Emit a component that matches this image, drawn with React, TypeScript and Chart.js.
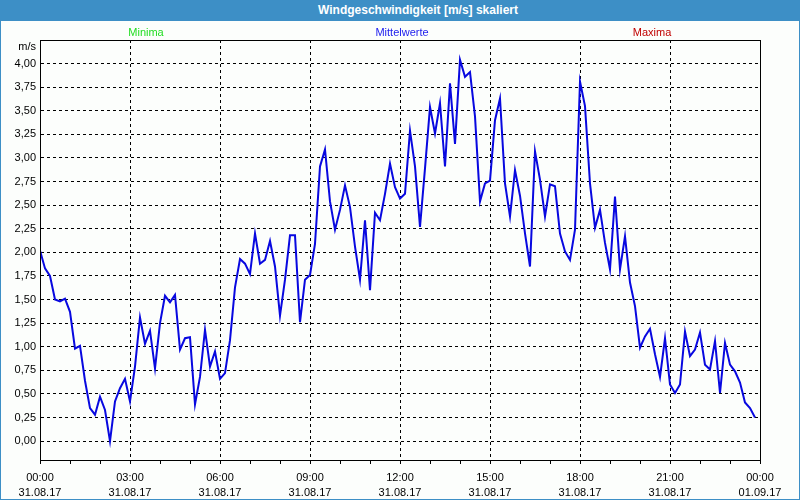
import React, { useEffect, useRef } from 'react';
import { Chart, registerables } from 'chart.js';

Chart.register(...registerables);

// Mittelwerte (m/s), 10-minute samples
const windNight = [
  2.02, 1.83, 1.75, 1.5, 1.48, 1.51, 1.37, 0.98, 1.01, 0.64, 0.35, 0.28,
  0.47, 0.33, 0.0, 0.42, 0.56, 0.66, 0.42, 0.79, 1.31, 1.03, 1.17, 0.77,
  1.25, 1.54, 1.47, 1.55, 0.97, 1.09, 1.1, 0.39, 0.68, 1.18, 0.79, 0.95,
  0.66, 0.72, 1.07, 1.63, 1.93, 1.88, 1.77, 2.2, 1.88, 1.92, 2.12, 1.85,
];
const windDay = [
  1.33, 1.71, 2.18, 2.18, 1.26, 1.71, 1.76, 2.09, 2.91, 3.09, 2.54, 2.24,
  2.45, 2.71, 2.48, 2.06, 1.71, 2.34, 1.6, 2.42, 2.34, 2.62, 2.94, 2.69,
  2.57, 2.62, 3.29, 2.91, 2.27, 2.89, 3.54, 3.26, 3.58, 2.91, 3.79, 3.15,
  4.04, 3.86, 3.91, 3.44, 2.54, 2.73, 2.76, 3.4, 3.63, 2.73, 2.38, 2.87,
];
const windEvening = [
  2.6, 2.2, 1.85, 3.07, 2.77, 2.38, 2.72, 2.7, 2.2, 2.01, 1.92, 2.24,
  3.81, 3.55, 2.73, 2.26, 2.45, 2.1, 1.82, 2.59, 1.82, 2.17, 1.68, 1.43,
  0.99, 1.11, 1.19, 0.92, 0.68, 1.09, 0.6, 0.51, 0.6, 1.16, 0.9, 0.97,
  1.15, 0.81, 0.76, 1.06, 0.51, 1.04, 0.81, 0.74, 0.62, 0.41, 0.35, 0.25,
];
const windMittelwerte = [...windNight, ...windDay, ...windEvening];
const sampleMinutes = 10;

const xTickTimes = ['00:00', '03:00', '06:00', '09:00', '12:00', '15:00', '18:00', '21:00', '00:00'];
const xTickDates = ['31.08.17', '31.08.17', '31.08.17', '31.08.17', '31.08.17', '31.08.17', '31.08.17', '31.08.17', '01.09.17'];
const yTickValues = [0, 0.25, 0.5, 0.75, 1, 1.25, 1.5, 1.75, 2, 2.25, 2.5, 2.75, 3, 3.25, 3.5, 3.75, 4];
const legendLabels = ['Minima', 'Mittelwerte', 'Maxima'];
const legendColors = ['#22dd22', '#2020ee', '#c00000'];
const legendCenters = [146, 402, 652];

const titleText = 'Windgeschwindigkeit [m/s] skaliert';
const unitText = 'm/s';

const FONT = '"Liberation Sans", Arial, sans-serif';

const framePlugin = {
  id: 'plotFrame',
  afterDraw(chart: any) {
    const { ctx, chartArea: a } = chart;
    ctx.save();
    ctx.strokeStyle = '#000';
    ctx.lineWidth = 1;
    ctx.strokeRect(Math.round(a.left) + 0.5, Math.round(a.top) + 0.5, Math.round(a.right - a.left), Math.round(a.bottom - a.top));
    ctx.restore();
  },
};

export default function App() {
  const canvasRef = useRef<HTMLCanvasElement | null>(null);

  useEffect(() => {
    document.body.style.margin = '0';
    const canvas = canvasRef.current;
    if (!canvas) return;
    const points = windMittelwerte.map((v, i) => ({ x: i * sampleMinutes, y: v }));
    const chart = new Chart(canvas, {
      type: 'line',
      data: {
        datasets: [
          {
            label: 'Mittelwerte',
            data: points,
            borderColor: '#0808e0',
            borderWidth: 2,
            pointRadius: 0,
            tension: 0,
            fill: false,
          },
        ],
      },
      options: {
        responsive: false,
        animation: false,
        layout: { padding: { top: 40, right: 40, left: 0, bottom: 0 } },
        plugins: { legend: { display: false }, tooltip: { enabled: false }, title: { display: false } },
        scales: {
          x: {
            type: 'linear',
            min: 0,
            max: 1440,
            afterBuildTicks: (scale: any) => {
              const t = [];
              for (let m = 0; m <= 1440; m += 60) t.push({ value: m });
              scale.ticks = t;
            },
            afterFit: (scale: any) => {
              scale.height = 40;
            },
            grid: {
              color: (ctx: any) => (ctx.tick && ctx.tick.value % 180 === 0 ? '#000' : 'rgba(0,0,0,0)'),
              lineWidth: 1,
              drawTicks: true,
              tickLength: 4,
              tickColor: '#000',
              tickWidth: 1,
            },
            border: { display: true, color: '#000', width: 1, dash: [3, 3] },
            ticks: {
              autoSkip: false,
              maxRotation: 0,
              padding: 6,
              color: '#000',
              font: { family: FONT, size: 11, lineHeight: '15px' },
              callback: (value: any) => {
                const v = Number(value);
                if (v % 180 !== 0) return '';
                const idx = v / 180;
                return [xTickTimes[idx], xTickDates[idx]];
              },
            },
          },
          y: {
            type: 'linear',
            min: -0.2,
            max: 4.25,
            afterBuildTicks: (scale: any) => {
              scale.ticks = yTickValues.map((v) => ({ value: v }));
            },
            afterFit: (scale: any) => {
              scale.width = 40;
            },
            grid: {
              color: '#000',
              lineWidth: 1,
              drawTicks: false,
            },
            border: { display: true, color: '#000', width: 1, dash: [3, 3] },
            ticks: {
              padding: 4,
              color: '#000',
              font: { family: FONT, size: 11 },
              callback: (value: any) => Number(value).toFixed(2).replace('.', ','),
            },
          },
        },
      },
      plugins: [framePlugin],
    } as any);
    return () => chart.destroy();
  }, []);

  return (
    <div style={{ position: 'relative', width: 800, height: 500, background: '#fcfefc', overflow: 'hidden', fontFamily: FONT }}>
      <canvas ref={canvasRef} width={800} height={500} style={{ position: 'absolute', left: 0, top: 0, display: 'block' }} />
      <div style={{ position: 'absolute', left: 0, top: 0, width: 800, height: 21, background: '#3d8fc6' }}>
        <span
          style={{
            position: 'absolute',
            left: 418,
            top: 0,
            transform: 'translateX(-50%)',
            whiteSpace: 'nowrap',
            color: '#fff',
            fontWeight: 'bold',
            fontSize: 12,
            lineHeight: '21px',
          }}
        >
          {titleText}
        </span>
      </div>
      {legendLabels.map((lbl, i) => (
        <span
          key={lbl}
          style={{
            position: 'absolute',
            left: legendCenters[i],
            top: 25,
            transform: 'translateX(-50%)',
            whiteSpace: 'nowrap',
            color: legendColors[i],
            fontSize: 11,
            lineHeight: '14px',
          }}
        >
          {lbl}
        </span>
      ))}
      <div style={{ position: 'absolute', left: 0, top: 40, width: 36, textAlign: 'right', fontSize: 11, lineHeight: '13px', color: '#000' }}>
        {unitText}
      </div>
      <div
        style={{
          position: 'absolute',
          left: 0,
          top: 0,
          width: 800,
          height: 500,
          boxSizing: 'border-box',
          borderLeft: '1px solid #3d8fc6',
          borderRight: '1px solid #3d8fc6',
          borderBottom: '1px solid #3d8fc6',
          pointerEvents: 'none',
        }}
      />
    </div>
  );
}
